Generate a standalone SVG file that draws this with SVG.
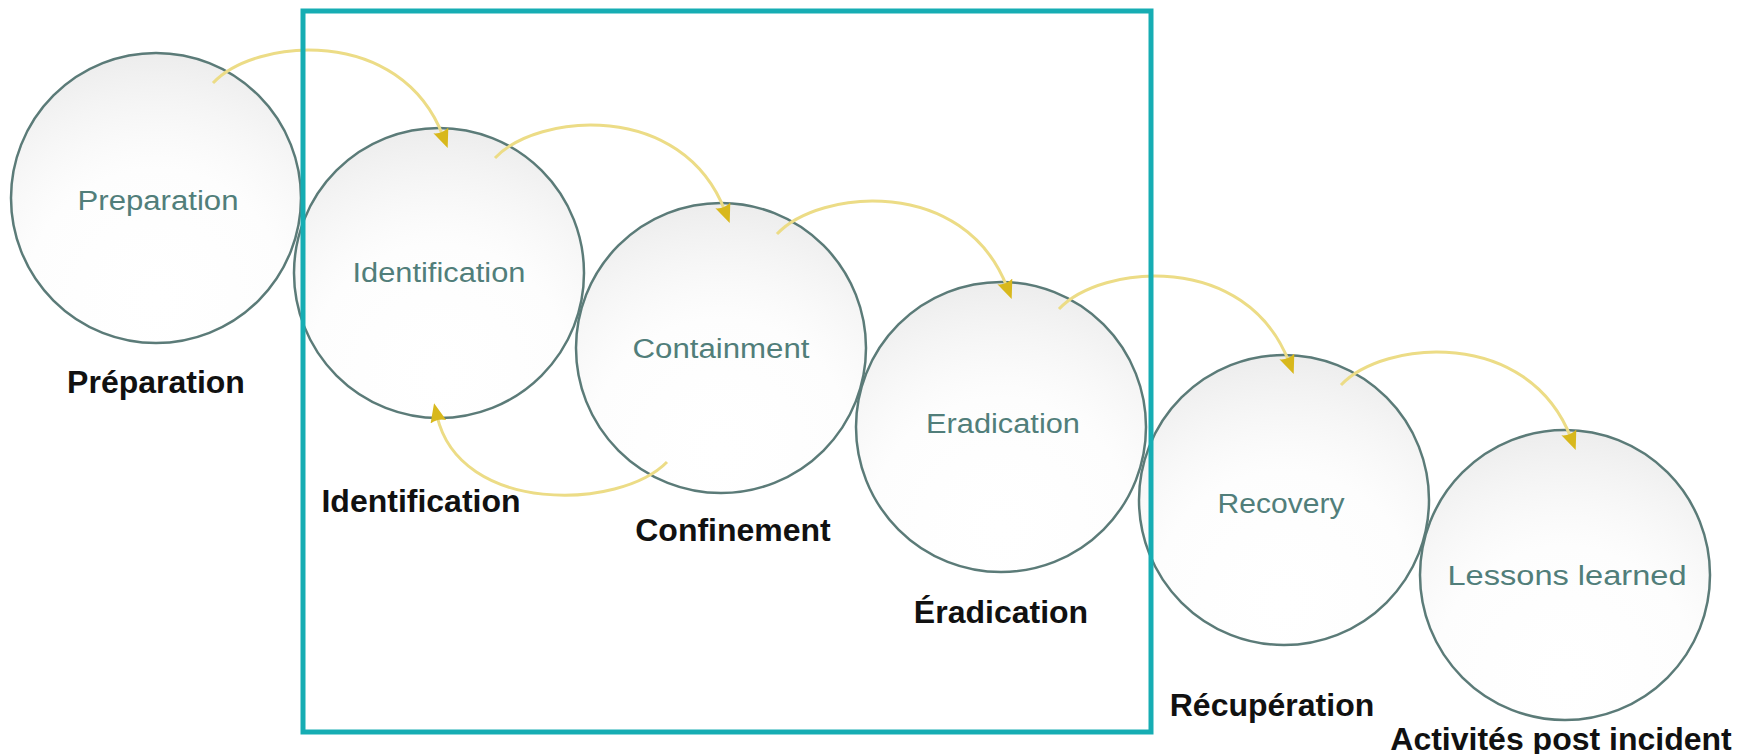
<svg xmlns="http://www.w3.org/2000/svg" width="1752" height="754" viewBox="0 0 1752 754">
  <style>
    .phase { stroke: #5b7b78; stroke-width: 2.5; fill: url(#glass); }
    .en { font-family: "Liberation Sans", Arial, sans-serif; font-size: 27px; fill: #517e7a; text-anchor: middle; }
    .fr { font-family: "Liberation Sans", Arial, sans-serif; font-size: 32px; font-weight: bold; fill: #111; text-anchor: middle; }
    .flow { fill: none; stroke: #ecdc86; stroke-width: 3; marker-end: url(#head); }
    .frame { fill: none; stroke: #16adb3; stroke-width: 5; }
  </style>
  <defs>
    <!-- soft glassy shading: grey towards the top and rim, white towards the bottom -->
    <radialGradient id="glass" cx="50%" cy="85%" r="90%">
      <stop offset="0" stop-color="#ffffff" stop-opacity="0.3"/>
      <stop offset="0.5" stop-color="#fbfbfb" stop-opacity="0.5"/>
      <stop offset="1" stop-color="#e6e6e6" stop-opacity="0.85"/>
    </radialGradient>
    <marker id="head" markerUnits="userSpaceOnUse" markerWidth="22" markerHeight="18" refX="6" refY="8" orient="auto">
      <path d="M0,0 L19,8 L0,16 Q4,8 0,0 Z" fill="#d8b81c"/>
    </marker>
  </defs>

  <rect width="1752" height="754" fill="#ffffff"/>

  <g id="preparation">
    <circle class="phase" cx="156" cy="198" r="145"/>
    <text class="en" x="158" y="210" textLength="161" lengthAdjust="spacingAndGlyphs">Preparation</text>
    <text class="fr" x="156" y="393">Préparation</text>
  </g>
  <g id="identification">
    <circle class="phase" cx="439" cy="273" r="145"/>
    <text class="en" x="439" y="282" textLength="173" lengthAdjust="spacingAndGlyphs">Identification</text>
    <text class="fr" x="421" y="512">Identification</text>
  </g>
  <g id="containment">
    <circle class="phase" cx="721" cy="348" r="145"/>
    <text class="en" x="721" y="358" textLength="177" lengthAdjust="spacingAndGlyphs">Containment</text>
    <text class="fr" x="733" y="541">Confinement</text>
  </g>
  <g id="eradication">
    <circle class="phase" cx="1001" cy="427" r="145"/>
    <text class="en" x="1003" y="433" textLength="154" lengthAdjust="spacingAndGlyphs">Eradication</text>
    <text class="fr" x="1001" y="623">Éradication</text>
  </g>
  <g id="recovery">
    <circle class="phase" cx="1284" cy="500" r="145"/>
    <text class="en" x="1281" y="513" textLength="127" lengthAdjust="spacingAndGlyphs">Recovery</text>
    <text class="fr" x="1272" y="716">Récupération</text>
  </g>
  <g id="lessons-learned">
    <circle class="phase" cx="1565" cy="575" r="145"/>
    <text class="en" x="1567" y="585" textLength="239" lengthAdjust="spacingAndGlyphs">Lessons learned</text>
    <text class="fr" x="1561" y="750">Activités post incident</text>
  </g>

  <g id="connectors">
    <path class="flow" d="M213,83 C255,38 400,25 443,136"/>
    <path class="flow" d="M495,158 C537,113 682,100 725,211"/>
    <path class="flow" d="M777,234 C819,189 964,176 1007,287"/>
    <path class="flow" d="M1059,309 C1101,264 1246,251 1289,362"/>
    <path class="flow" d="M1341,385 C1383,340 1528,327 1571,438"/>
    <path class="flow" d="M667,462 C620,510 460,515 437,416"/>
  </g>

  <rect id="frame" class="frame" x="303" y="11" width="848" height="721"/>
</svg>
